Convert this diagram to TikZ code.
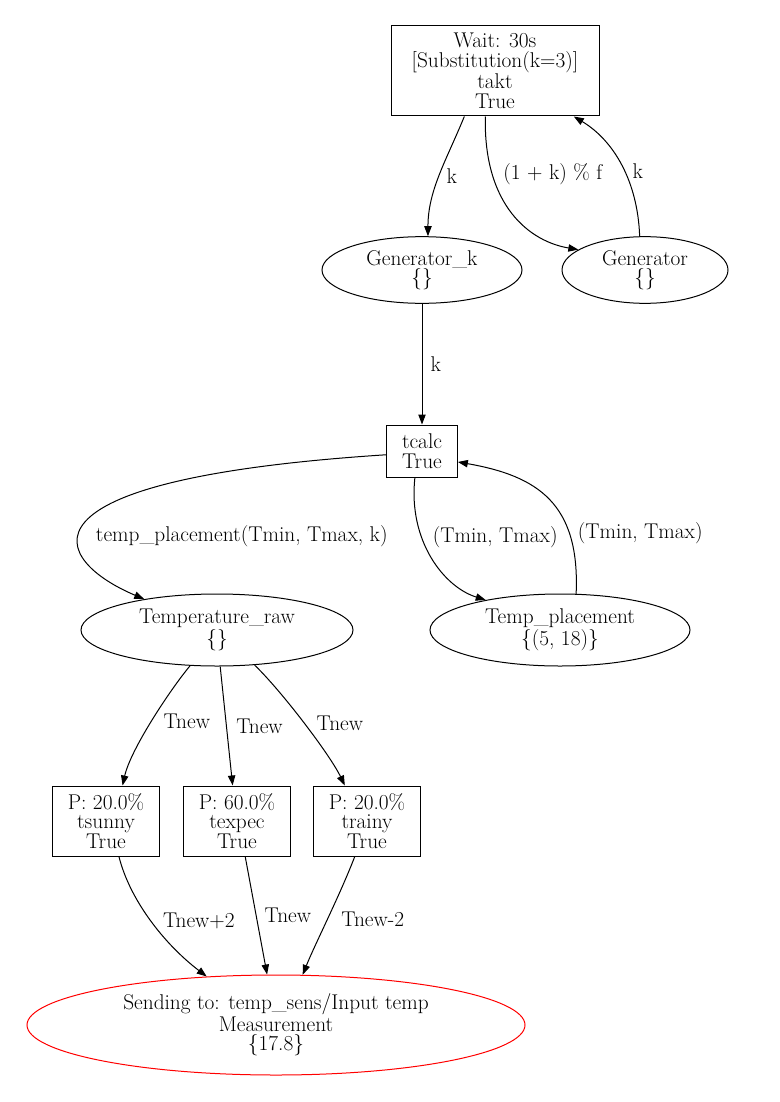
\documentclass[tikz,border=0pt]{standalone}
\usepackage{tikz}
\usetikzlibrary{arrows.meta,shapes.geometric}
\definecolor{SendRed}{HTML}{FF0000}

\begin{document}
\begin{tikzpicture}[
	x=0.75pt, y=-0.75pt,
	line width=0.75pt,
	every node/.style={font=\fontsize{16}{14.6}\selectfont, align=center},
	box/.style={draw, rectangle, inner sep=0pt},
	oval/.style={draw, ellipse, inner sep=0pt},
	flow/.style={-{Triangle[length=7.5pt,width=5.5pt]}},
	lbl/.style={draw=none, anchor=west, inner sep=1pt}
	]
	\useasboundingbox (0,0) rectangle (780,1102);
	
	% top part
	\node[box, minimum width=156pt, minimum height=67.5pt] (wait) at (495,71)
		{Wait: 30s\\ {[Substitution(k=3)]}\\ takt\\ True};
	\node[oval, minimum width=150pt, minimum height=50pt] (genk) at (422,270)
		{Generator\_k\\ \{\}};
	\node[oval, minimum width=124.5pt, minimum height=50pt] (gen) at (645,270)
		{Generator\\ \{\}};
	\node[box, minimum width=53pt, minimum height=39pt] (tcalc) at (422,451)
		{tcalc\\ True};
	
	% temperatures
	\node[oval, minimum width=204pt, minimum height=54pt] (traw) at (217,630)
		{Temperature\_raw\\ \{\}};
	\node[oval, minimum width=195pt, minimum height=54pt] (tplace) at (560,630)
		{Temp\_placement\\ \{(5, 18)\}};
	\node[box, minimum width=80pt, minimum height=52.5pt] (tsunny) at (106,821)
		{P: 20.0\%\\ tsunny\\ True};
	\node[box, minimum width=80pt, minimum height=52.5pt] (texpec) at (237,821)
		{P: 60.0\%\\ texpec\\ True};
	\node[box, minimum width=80pt, minimum height=52.5pt] (trainy) at (367,821)
		{P: 20.0\%\\ trainy\\ True};
	\node[oval, draw=SendRed, minimum width=373.5pt, minimum height=75pt] (send) at (276,1025)
		{Sending to: temp\_sens/Input temp\\ Measurement\\ \{17.8\}};
	
	% connectors
	\draw[flow] (wait.-124) .. controls +(-18,44) and +(0,-46) .. (genk.80)
		node[lbl, pos=0.5, xshift=4pt] {k};
	\draw[flow] (wait.-102) .. controls +(-2,90) and +(-48,-8) .. (gen.163)
		node[lbl, pos=0.25, xshift=7pt] {(1 + k) \% f};
	\draw[flow] (gen.99) .. controls +(-2,-55) and +(40,24) .. (wait.-30)
		node[lbl, pos=0.45, xshift=5pt] {k};
	\draw[flow] (genk) -- (tcalc)
		node[lbl, pos=0.5, xshift=5pt] {k};
	\draw[flow] (tcalc.186) .. controls +(-387,25) and +(-90,-38) .. (traw.157)
		node[lbl, pos=0.58, xshift=11pt] {temp\_placement(Tmin, Tmax, k)};
	\draw[flow] (tcalc.255) .. controls +(-7,63) and +(-42,-13) .. (tplace.158)
		node[lbl, pos=0.35, xshift=7pt] {(Tmin, Tmax)};
	\draw[flow] (tplace.66) .. controls +(4,-90) and +(80,14) .. (tcalc.-17)
		node[lbl, pos=0.27, xshift=5pt] {(Tmin, Tmax)};
	\draw[flow] (traw.-127) .. controls +(-20,24) and +(8,-36) .. (tsunny.65)
		node[lbl, pos=0.5, xshift=7.5pt] {Tnew};
	\draw[flow] (traw.-85) -- (texpec.97)
		node[lbl, pos=0.5, xshift=6pt] {Tnew};
	\draw[flow] (traw.-43) .. controls +(27,26) and +(-15,-31) .. (trainy.122)
		node[lbl, pos=0.5, xshift=8pt] {Tnew};
	\draw[flow] (tsunny.-70) .. controls +(11,44) and +(-42,-32) .. (send.145)
		node[lbl, pos=0.5, xshift=7.5pt] {Tnew+2};
	\draw[flow] (texpec.-77) -- (send.100)
		node[lbl, pos=0.5, xshift=5pt] {Tnew};
	\draw[flow] (trainy.-109) .. controls +(-15,39) and +(12,-30) .. (send.62)
		node[lbl, pos=0.5, xshift=9pt] {Tnew-2};
\end{tikzpicture}
\end{document}
